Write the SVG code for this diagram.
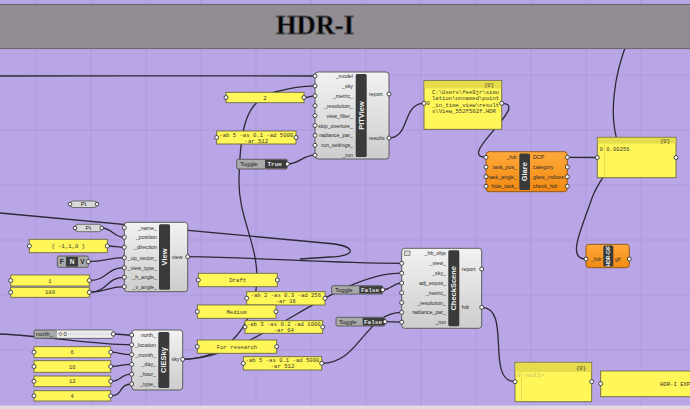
<svg xmlns="http://www.w3.org/2000/svg" width="690" height="409" viewBox="0 0 690 409">
<defs>
<linearGradient id="cg" x1="0" y1="0" x2="0" y2="1"><stop offset="0" stop-color="#f2f2f2"/><stop offset="1" stop-color="#cdcdcd"/></linearGradient>
<linearGradient id="og" x1="0" y1="0" x2="0" y2="1"><stop offset="0" stop-color="#ffa93a"/><stop offset="1" stop-color="#f28a12"/></linearGradient>
<style>
.grid{stroke:#ab97db;stroke-width:0.7}
.wire{fill:none;stroke:#2c2a36;stroke-width:1.3}
.comp{fill:url(#cg);stroke:#505050;stroke-width:0.9}
.ocomp{fill:url(#og);stroke:#8a5416;stroke-width:0.9}
.strip{fill:#3a3a3a}
.lbl{font-family:"Liberation Sans",Arial,sans-serif;font-size:5.3px;fill:#2a2a2a}
.r{text-anchor:end}
.vt{font-family:"Liberation Sans",Arial,sans-serif;font-size:7.5px;font-weight:bold;fill:#f4f4f4;text-anchor:middle;dominant-baseline:central}
.panel{fill:#fff65a;stroke:#6e6a40;stroke-width:0.9}
.phead{fill:#e6dc4c}
.pt{font-family:"Liberation Mono","Courier New",monospace;font-size:5.6px;fill:#3a3a2a}
.c{text-anchor:middle}
.grip{fill:#fafafa;stroke:#222;stroke-width:0.8}
.tog{fill:#a9a9a9;stroke:#4a4a4a;stroke-width:0.8}
.togd{fill:#3c3c3c}
.togt{font-family:"Liberation Sans",Arial,sans-serif;font-size:6px;fill:#222}
.togv{font-family:"Liberation Mono","Courier New",monospace;font-size:6px;font-weight:bold;fill:#e4e4e4}
.pill{fill:#d9d9d9;stroke:#555;stroke-width:0.8}
</style>
</defs>

<rect width="690" height="409" fill="#b9a6e6"/>
<g id="grid">
<path class="grid" d="M36,0V409M91,0V409M146,0V409M201,0V409M256,0V409M311,0V409M366,0V409M421,0V409M476,0V409M531,0V409M586,0V409M641,0V409M0,75H690M0,130H690M0,185H690M0,240H690M0,295H690M0,350H690"/>
</g>
<rect x="0" y="405.5" width="690" height="4" fill="#e0dae2"/>

<g id="connectors">
<path class="wire" d="M0,76 C100,75.5 250,76 315,76"/>
<path class="wire" d="M389,138 C410,138 402,103.3 424,103.3"/>
<path class="wire" d="M501.7,103.3 C532,103.3 455,157.3 486,157.3"/>
<path class="wire" d="M567.3,157.3 L597.3,157.5"/>
<path class="wire" d="M586,259 C566,259 582,228 592,198 C600,175 622,160 616,136 C611,115 612,80 628,40"/>
<path class="wire" d="M304,97.5 C310,97.5 310,95.8 315,95.8"/>
<path class="wire" d="M287.3,164 C300,164 302,155.2 315,155.2"/>
<path class="wire" d="M182.7,359.3 C225,359 250,330 256,290 C262,250 238,220 239,180 C240,130 245,100 275,92 C290,88 300,86 315,85.9"/>
<path class="wire" d="M182.7,359.3 C255,359.3 331.7,273.2 401.7,273.2"/>
<path class="wire" d="M101.7,228 C112,228 114,237.3 124.3,237.3"/>
<path class="wire" d="M107.3,246 C115,246 117,247.3 124.3,247.3"/>
<path class="wire" d="M88.3,261.6 C105,261.6 108,257.7 124.3,257.7"/>
<path class="wire" d="M89.3,280.5 C108,280.5 106,267.7 124.3,267.7"/>
<path class="wire" d="M89.3,292.3 C108,292.3 106,277.3 124.3,277.3"/>
<path class="wire" d="M89.3,292.3 C108,292.3 106,286.7 124.3,286.7"/>
<path class="wire" d="M0,213 L330,243.5 C356,246 358,256 330,257 L300,259"/>
<path class="wire" d="M187.7,256.7 C280,258 320,263.3 401.7,263.3"/>
<path class="wire" d="M382.7,289.8 C392,289.8 392,283 401.7,283"/>
<path class="wire" d="M385,321.7 L401.7,322.2"/>
<path class="wire" d="M321.7,363.3 C360,363.3 365,312.4 401.7,312.4"/>
<path class="wire" d="M481.7,307.3 C512,307.3 485,381.7 515,381.7"/>
<path class="wire" d="M113.3,334 C122,334 122,335 131.7,335"/>
<path class="wire" d="M0,334 C50,336 90,344.8 131.7,344.8"/>
<path class="wire" d="M110.7,352.2 C120,352.2 120,354.6 131.7,354.6"/>
<path class="wire" d="M110.7,366.5 C122,366.5 120,364.4 131.7,364.4"/>
<path class="wire" d="M110.7,381.3 C122,381.3 120,374.2 131.7,374.2"/>
<path class="wire" d="M110.7,395.8 C124,395.8 118,384 131.7,384"/>
</g>

<g id="title">
<rect x="-2" y="4.5" width="694" height="44" fill="#918d93" stroke="#6c6a6e" stroke-width="1.2"/>
<text x="315" y="34" font-family="'Liberation Serif','Times New Roman',serif" font-size="28" font-weight="bold" fill="#000" stroke="#555" stroke-width="0.9" text-anchor="middle" textLength="78" lengthAdjust="spacingAndGlyphs">HDR-I</text>
</g>

<g id="PITView">
<rect class="comp" x="315" y="72" width="74" height="87" rx="3"/>
<rect class="strip" x="355.7" y="74" width="11" height="83" rx="1.5"/>
<text class="vt" transform="translate(361.2,115.5) rotate(-90)">PITView</text>
<g class="lbl r">
<text x="353" y="78">_model</text><text x="353" y="87.9">_sky</text><text x="353" y="97.8">_metric_</text><text x="353" y="107.7">_resolution_</text><text x="353" y="117.6">view_filter_</text><text x="353" y="127.5">skip_overture_</text><text x="353" y="137.4">radiance_par_</text><text x="353" y="147.3">run_settings_</text><text x="353" y="157.2">_run</text>
</g>
<text class="lbl" x="369" y="96">report</text><text class="lbl" x="369" y="140">results</text>
<g class="grip"><circle cx="315" cy="76" r="2"/><circle cx="315" cy="85.9" r="2"/><circle cx="315" cy="95.8" r="2"/><circle cx="315" cy="105.7" r="2"/><circle cx="315" cy="115.6" r="2"/><circle cx="315" cy="125.5" r="2"/><circle cx="315" cy="135.4" r="2"/><circle cx="315" cy="145.3" r="2"/><circle cx="315" cy="155.2" r="2"/><circle cx="389" cy="94" r="2"/><circle cx="389" cy="138" r="2"/></g>
</g>

<g id="panel2">
<rect class="panel" x="226" y="92.3" width="78" height="10.4"/>
<text class="pt c" x="265" y="99.5">2</text>
<circle class="grip" cx="226" cy="97.5" r="2"/><circle class="grip" cx="304" cy="97.5" r="2"/>
</g>
<g id="panelAb5top">
<rect class="panel" x="216.7" y="131" width="79.3" height="13"/>
<text class="pt c" x="256.3" y="136.8">-ab 5 -as 0.1 -ad 5000</text><text class="pt c" x="256.3" y="142.6">-ar 512</text>
<circle class="grip" cx="216.7" cy="137.5" r="2"/><circle class="grip" cx="296" cy="137.5" r="2"/>
</g>
<g id="toggleTrue">
<rect class="tog" x="236.7" y="159.3" width="50.6" height="9.7" rx="1.5"/>
<rect class="togd" x="265" y="159.8" width="21.8" height="8.7"/>
<text class="togt" x="240" y="166.3">Toggle</text><text class="togv" x="267.5" y="166.3">True</text>
<circle class="grip" cx="287.3" cy="164" r="2"/>
</g>

<g id="panelFile">
<rect class="panel" x="424" y="80.7" width="77.7" height="48.6"/>
<rect class="phead" x="424.5" y="81.2" width="76.7" height="7.2"/>
<text class="pt" x="494" y="86.8" text-anchor="end">{0}</text>
<text class="pt" x="432" y="93.5">C:\Users\fee9jr\simu</text>
<text class="pt" x="432" y="100">lation\unnamed\point</text>
<text class="pt" x="432" y="106.5">_in_time_view\result</text>
<text class="pt" x="432" y="113">s\View_552f502f.HDR</text>
<text class="pt" x="426.5" y="105">0</text>
<circle class="grip" cx="424" cy="103.3" r="2"/><circle class="grip" cx="501.7" cy="103.3" r="2"/>
</g>

<g id="Glare">
<rect class="ocomp" x="486" y="151.7" width="81.3" height="40" rx="3"/>
<rect class="strip" x="519.3" y="153.5" width="10.7" height="36.5" rx="1.5"/>
<text class="vt" transform="translate(524.6,171.7) rotate(-90)">Glare</text>
<g class="lbl r"><text x="517" y="159.3">_hdr</text><text x="517" y="169">task_pos_</text><text x="517" y="178.7">task_angle_</text><text x="517" y="188.3">hide_task_</text></g>
<g class="lbl"><text x="533" y="159.3">DCP</text><text x="533" y="169">category</text><text x="533" y="178.7">glare_indices</text><text x="533" y="188.3">check_hdr</text></g>
<g class="grip"><circle cx="486" cy="157.3" r="2"/><circle cx="486" cy="167" r="2"/><circle cx="486" cy="176.7" r="2"/><circle cx="486" cy="186.3" r="2"/><circle cx="567.3" cy="157.3" r="2"/><circle cx="567.3" cy="167" r="2"/><circle cx="567.3" cy="176.7" r="2"/><circle cx="567.3" cy="186.3" r="2"/></g>
</g>

<g id="panelDCP">
<rect class="panel" x="597.3" y="137.3" width="78.7" height="40.4"/>
<rect class="phead" x="597.8" y="137.8" width="77.7" height="5.8"/>
<line x1="604.5" y1="144" x2="604.5" y2="177" stroke="#d8cf50" stroke-width="0.6"/>
<text class="pt" x="670" y="142.6" text-anchor="end">{0}</text>
<text class="pt" x="599.5" y="150.5">0 0.00256</text>
<circle class="grip" cx="597.3" cy="157.5" r="2"/><circle class="grip" cx="676" cy="157.5" r="2"/>
</g>

<g id="HDRGIF">
<rect class="ocomp" x="586" y="244.3" width="43.3" height="23.4" rx="3"/>
<rect class="strip" x="603.3" y="245.5" width="10" height="21" rx="1.5"/>
<text class="vt" style="font-size:5px" transform="translate(608.3,256) rotate(-90)">HDR-GIF</text>
<text class="lbl r" x="601.5" y="261">_hdr</text><text class="lbl" x="615" y="261">gif</text>
<circle class="grip" cx="586" cy="259" r="2"/><circle class="grip" cx="629.3" cy="259" r="2"/>
</g>

<g id="Pt1">
<rect class="pill" x="70" y="201" width="27" height="6.5" rx="3"/>
<text class="lbl c" style="font-size:6px" x="83.5" y="206.3">Pt</text>
<circle class="grip" cx="70" cy="204.2" r="1.8"/><circle class="grip" cx="97" cy="204.2" r="1.8"/>
</g>
<g id="Pt2">
<rect class="pill" x="75" y="224.3" width="26.7" height="7.4" rx="3"/>
<text class="lbl c" style="font-size:6px" x="88.3" y="230">Pt</text>
<circle class="grip" cx="75" cy="228" r="1.8"/><circle class="grip" cx="101.7" cy="228" r="1.8"/>
</g>
<g id="panelDir">
<rect class="panel" x="29.3" y="239.3" width="78" height="13.4"/>
<text class="pt c" x="68.3" y="248">{ -1,1,0 }</text>
<circle class="grip" cx="29.3" cy="246" r="2"/><circle class="grip" cx="107.3" cy="246" r="2"/>
</g>
<g id="valueList">
<rect class="tog" x="57.3" y="256" width="31" height="11.3" rx="1.5"/>
<rect class="togd" x="66" y="256.8" width="12" height="9.8"/>
<text class="lbl c" style="font-weight:bold;font-size:6.5px" x="61.7" y="264">F</text>
<text class="lbl c" style="font-weight:bold;font-size:6.5px;fill:#eee" x="72" y="264">N</text>
<text class="lbl c" style="font-weight:bold;font-size:6.5px" x="82.5" y="264">V</text>
<circle class="grip" cx="88.3" cy="261.6" r="2"/>
</g>
<g id="panel1">
<rect class="panel" x="10.7" y="275" width="78.6" height="11"/>
<text class="pt c" x="50" y="282.5">1</text>
<circle class="grip" cx="10.7" cy="280.5" r="2"/><circle class="grip" cx="89.3" cy="280.5" r="2"/>
</g>
<g id="panel180">
<rect class="panel" x="10.7" y="287.3" width="78.6" height="10"/>
<text class="pt c" x="50" y="294.3">180</text>
<circle class="grip" cx="10.7" cy="292.3" r="2"/><circle class="grip" cx="89.3" cy="292.3" r="2"/>
</g>

<g id="View">
<rect class="comp" x="124.3" y="222.3" width="63.4" height="69.4" rx="3"/>
<rect class="strip" x="159" y="224.3" width="11" height="65.4" rx="1.5"/>
<text class="vt" transform="translate(164.5,257) rotate(-90)">View</text>
<g class="lbl r"><text x="157" y="229.6">_name_</text><text x="157" y="239.2">_position</text><text x="157" y="249.2">_direction</text><text x="157" y="259.6">_up_vector_</text><text x="157" y="269.6">_view_type_</text><text x="157" y="279.2">_h_angle_</text><text x="157" y="288.6">_v_angle_</text></g>
<text class="lbl" x="172" y="258.6">view</text>
<g class="grip"><circle cx="124.3" cy="227.7" r="2"/><circle cx="124.3" cy="237.3" r="2"/><circle cx="124.3" cy="247.3" r="2"/><circle cx="124.3" cy="257.7" r="2"/><circle cx="124.3" cy="267.7" r="2"/><circle cx="124.3" cy="277.3" r="2"/><circle cx="124.3" cy="286.7" r="2"/><circle cx="187.7" cy="256.7" r="2"/></g>
</g>

<g id="panelDraft">
<rect class="panel" x="198.3" y="273.3" width="79" height="13.4"/>
<text class="pt c" x="237.8" y="282">Draft</text>
<circle class="grip" cx="198.3" cy="280" r="2"/><circle class="grip" cx="277.3" cy="280" r="2"/>
</g>
<g id="panelAb2">
<rect class="panel" x="246.7" y="291.7" width="78.3" height="13.3"/>
<text class="pt c" x="285.8" y="297.4">-ab 2 -as 0.3 -ad 256</text><text class="pt c" x="285.8" y="303.2">-ar 16</text>
<circle class="grip" cx="246.7" cy="298.3" r="2"/><circle class="grip" cx="325" cy="298.3" r="2"/>
</g>
<g id="panelMedium">
<rect class="panel" x="197.3" y="305" width="78.7" height="13.3"/>
<text class="pt c" x="236.6" y="313.6">Medium</text>
<circle class="grip" cx="197.3" cy="311.6" r="2"/><circle class="grip" cx="276" cy="311.6" r="2"/>
</g>
<g id="panelAb3">
<rect class="panel" x="245" y="320.7" width="77.7" height="12.6"/>
<text class="pt c" x="283.8" y="326.2">-ab 3 -as 0.2 -ad 1000</text><text class="pt c" x="283.8" y="331.9">-ar 64</text>
<circle class="grip" cx="245" cy="327" r="2"/><circle class="grip" cx="322.7" cy="327" r="2"/>
</g>
<g id="panelResearch">
<rect class="panel" x="197.3" y="340" width="79.4" height="13.3"/>
<text class="pt c" x="237" y="348.6">For research</text>
<circle class="grip" cx="197.3" cy="346.6" r="2"/><circle class="grip" cx="276.7" cy="346.6" r="2"/>
</g>
<g id="panelAb5bottom">
<rect class="panel" x="243.3" y="356.7" width="78.4" height="13.3"/>
<text class="pt c" x="282.5" y="362.4">-ab 5 -as 0.1 -ad 5000</text><text class="pt c" x="282.5" y="368.2">-ar 512</text>
<circle class="grip" cx="243.3" cy="363.3" r="2"/><circle class="grip" cx="321.7" cy="363.3" r="2"/>
</g>

<g id="toggleFalse1">
<rect class="tog" x="331.7" y="285.7" width="51" height="8.3" rx="1.5"/>
<rect class="togd" x="359.3" y="286.2" width="22.9" height="7.3"/>
<text class="togt" x="335" y="292">Toggle</text><text class="togv" x="361" y="292">False</text>
<circle class="grip" cx="382.7" cy="289.8" r="2"/>
</g>
<g id="toggleFalse2">
<rect class="tog" x="336" y="317.3" width="49" height="8.7" rx="1.5"/>
<rect class="togd" x="362.7" y="317.8" width="21.8" height="7.7"/>
<text class="togt" x="339" y="323.8">Toggle</text><text class="togv" x="364" y="323.8">False</text>
<circle class="grip" cx="385" cy="321.7" r="2"/>
</g>

<g id="CheckScene">
<rect class="comp" x="401.7" y="248.3" width="80" height="80" rx="3"/>
<rect class="strip" x="448.3" y="250.3" width="11" height="76" rx="1.5"/>
<text class="vt" transform="translate(453.8,288.3) rotate(-90)">CheckScene</text>
<rect x="404.5" y="251" width="5.5" height="4.5" fill="#ddd" stroke="#555" stroke-width="0.6"/>
<g class="lbl r"><text x="446" y="255.2">_hb_objs</text><text x="446" y="265.2">_view_</text><text x="446" y="275.1">_sky_</text><text x="446" y="284.9">adj_expos_</text><text x="446" y="294.7">_metric_</text><text x="446" y="304.5">_resolution_</text><text x="446" y="314.3">radiance_par_</text><text x="446" y="324.1">_run</text></g>
<text class="lbl" x="461.7" y="270.9">report</text><text class="lbl" x="461.7" y="309.2">hdr</text>
<g class="grip"><circle cx="401.7" cy="263.3" r="2"/><circle cx="401.7" cy="273.2" r="2"/><circle cx="401.7" cy="283" r="2"/><circle cx="401.7" cy="292.8" r="2"/><circle cx="401.7" cy="302.6" r="2"/><circle cx="401.7" cy="312.4" r="2"/><circle cx="401.7" cy="322.2" r="2"/><circle cx="481.7" cy="269" r="2"/><circle cx="481.7" cy="307.3" r="2"/></g>
</g>

<g id="northSlider">
<rect class="tog" x="34" y="330" width="79.3" height="8.3" rx="1.5"/>
<rect x="57" y="330.5" width="55.8" height="7.3" fill="#ececec"/>
<text class="togt" x="36" y="336.2">north_</text>
<path d="M60.5,332.2 L62.3,334 L60.5,335.8 L58.7,334 Z" fill="none" stroke="#333" stroke-width="0.7"/>
<text class="togt" x="63.5" y="336.2">0</text>
<line x1="68" y1="334" x2="110" y2="334" stroke="#999" stroke-width="0.6" stroke-dasharray="1,1.5"/>
<circle class="grip" cx="113.3" cy="334" r="2"/>
</g>
<g id="panel6">
<rect class="panel" x="34" y="346.7" width="76.7" height="11"/>
<text class="pt c" x="72.3" y="354.2">6</text>
<circle class="grip" cx="34" cy="352.2" r="2"/><circle class="grip" cx="110.7" cy="352.2" r="2"/>
</g>
<g id="panel16">
<rect class="panel" x="34" y="360.7" width="76.7" height="11.6"/>
<text class="pt c" x="72.3" y="368.5">16</text>
<circle class="grip" cx="34" cy="366.5" r="2"/><circle class="grip" cx="110.7" cy="366.5" r="2"/>
</g>
<g id="panel12">
<rect class="panel" x="34" y="376" width="76.7" height="10.7"/>
<text class="pt c" x="72.3" y="383.3">12</text>
<circle class="grip" cx="34" cy="381.3" r="2"/><circle class="grip" cx="110.7" cy="381.3" r="2"/>
</g>
<g id="panel4">
<rect class="panel" x="34" y="390.7" width="76.7" height="10.3"/>
<text class="pt c" x="72.3" y="397.8">4</text>
<circle class="grip" cx="34" cy="395.8" r="2"/><circle class="grip" cx="110.7" cy="395.8" r="2"/>
</g>

<g id="CIESky">
<rect class="comp" x="131.7" y="330" width="51" height="60" rx="3"/>
<rect class="strip" x="158.3" y="332" width="11" height="56" rx="1.5"/>
<text class="vt" transform="translate(163.8,360) rotate(-90)">CIESky</text>
<g class="lbl r"><text x="156" y="336.9">north_</text><text x="156" y="346.7">_location</text><text x="156" y="356.5">_month_</text><text x="156" y="366.3">_day_</text><text x="156" y="376.1">_hour_</text><text x="156" y="385.9">_type_</text></g>
<text class="lbl" x="171.5" y="361.2">sky</text>
<g class="grip"><circle cx="131.7" cy="335" r="2"/><circle cx="131.7" cy="344.8" r="2"/><circle cx="131.7" cy="354.6" r="2"/><circle cx="131.7" cy="364.4" r="2"/><circle cx="131.7" cy="374.2" r="2"/><circle cx="131.7" cy="384" r="2"/><circle cx="182.7" cy="359.3" r="2"/></g>
</g>

<g id="panelNull">
<rect class="panel" x="515" y="362.3" width="76.7" height="39.4"/>
<rect class="phead" x="515.5" y="362.8" width="75.7" height="9.2"/>
<line x1="521.5" y1="372" x2="521.5" y2="401" stroke="#d8cf50" stroke-width="0.6"/>
<text class="pt" x="586" y="369.5" text-anchor="end">{0}</text>
<text class="pt" x="517" y="377" style="fill:#b8b070">0 &lt;null&gt;</text>
<circle class="grip" cx="515" cy="381.7" r="2"/><circle class="grip" cx="591.7" cy="381.7" r="2"/>
</g>
<g id="panelExport">
<rect class="panel" x="600.7" y="371" width="100" height="25.7"/>
<text class="pt" x="660" y="385.5">HDR-I EXP</text>
<circle class="grip" cx="600.7" cy="383.7" r="2"/>
</g>
</svg>
